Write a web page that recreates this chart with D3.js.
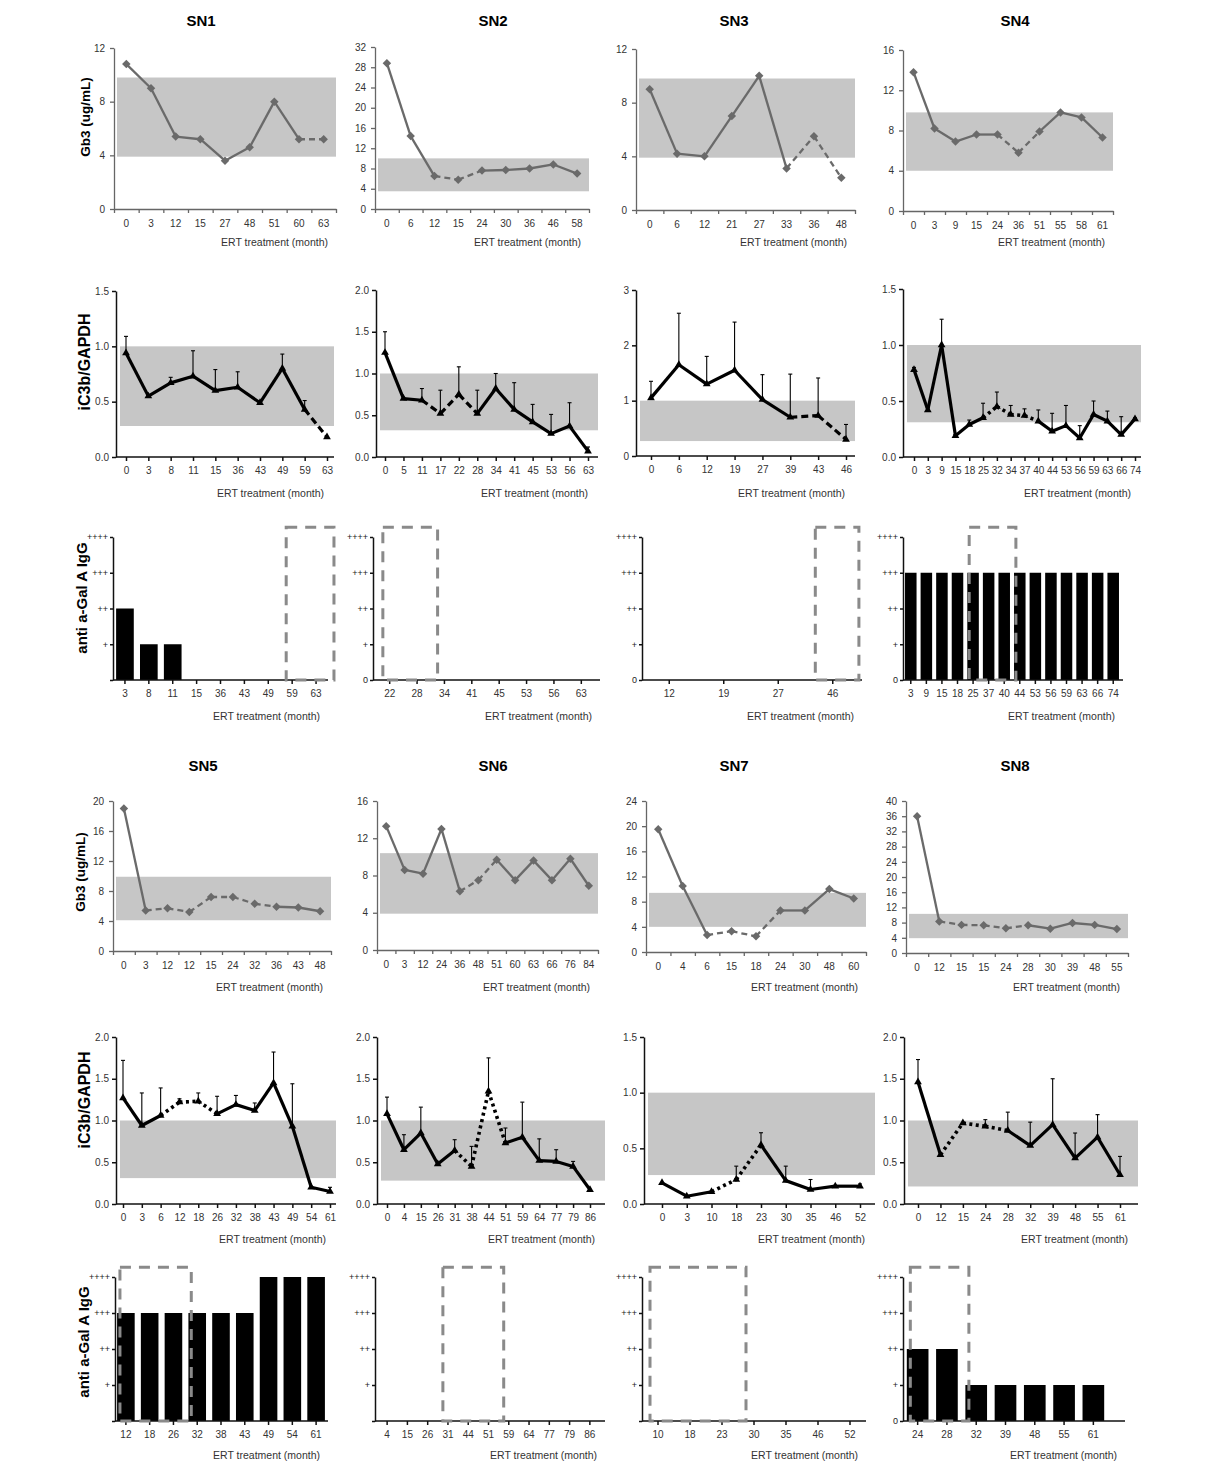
<!DOCTYPE html>
<html><head><meta charset="utf-8">
<script src="https://cdn.jsdelivr.net/npm/d3@7"></script>
<style>body{margin:0;background:#fff}svg{display:block}</style>
</head><body>
<svg id="c" width="1210" height="1470"></svg>
<script>
// ================= DATA =================
const patients = ["SN1","SN2","SN3","SN4","SN5","SN6","SN7","SN8"];
const igLevelLabels = ["0","+","++","+++","++++"];

// ---- Gb3 (ug/mL) ----  dashed: 1 = segment to next point is dashed
const gb3_SN1_months = ["0","3","12","15","27","48","51","60","63"];
const gb3_SN1_values = [10.8,9.0,5.4,5.2,3.6,4.6,8.0,5.2,5.2];
const gb3_SN1_dashed = [0,0,0,0,0,0,0,1];
const gb3_SN1_normal = [3.9,9.8];
const gb3_SN1_ymax = 12;

const gb3_SN2_months = ["0","6","12","15","24","30","36","46","58"];
const gb3_SN2_values = [28.8,14.4,6.5,5.8,7.6,7.7,8.0,8.8,7.0];
const gb3_SN2_dashed = [0,0,1,1,0,0,0,0];
const gb3_SN2_normal = [3.5,10.0];
const gb3_SN2_ymax = 32;

const gb3_SN3_months = ["0","6","12","21","27","33","36","48"];
const gb3_SN3_values = [9.0,4.2,4.0,7.0,10.0,3.1,5.5,2.4];
const gb3_SN3_dashed = [0,0,0,0,0,1,1];
const gb3_SN3_normal = [3.9,9.8];
const gb3_SN3_ymax = 12;

const gb3_SN4_months = ["0","3","9","15","24","36","51","55","58","61"];
const gb3_SN4_values = [13.8,8.2,6.9,7.6,7.6,5.8,7.9,9.8,9.3,7.3];
const gb3_SN4_dashed = [0,0,0,0,1,1,0,0,0];
const gb3_SN4_normal = [4.0,9.8];
const gb3_SN4_ymax = 16;

const gb3_SN5_months = ["0","3","12","12","15","24","32","36","43","48"];
const gb3_SN5_values = [19.0,5.4,5.7,5.2,7.2,7.2,6.3,5.9,5.8,5.3];
const gb3_SN5_dashed = [0,1,1,1,1,1,1,0,0];
const gb3_SN5_normal = [4.1,9.9];
const gb3_SN5_ymax = 20;

const gb3_SN6_months = ["0","3","12","24","36","48","51","60","63","66","76","84"];
const gb3_SN6_values = [13.3,8.6,8.2,13.0,6.3,7.5,9.7,7.5,9.6,7.5,9.8,6.9];
const gb3_SN6_dashed = [0,0,0,0,1,1,0,0,0,0,0];
const gb3_SN6_normal = [3.9,10.4];
const gb3_SN6_ymax = 16;

const gb3_SN7_months = ["0","4","6","15","18","24","30","48","60"];
const gb3_SN7_values = [19.5,10.5,2.7,3.3,2.5,6.6,6.6,10.0,8.5];
const gb3_SN7_dashed = [0,0,1,1,1,0,0,0];
const gb3_SN7_normal = [4.0,9.4];
const gb3_SN7_ymax = 24;

const gb3_SN8_months = ["0","12","15","15","24","28","30","39","48","55"];
const gb3_SN8_values = [36.0,8.3,7.4,7.3,6.5,7.3,6.4,7.9,7.4,6.3];
const gb3_SN8_dashed = [0,1,1,1,1,0,0,0,0];
const gb3_SN8_normal = [3.9,10.3];
const gb3_SN8_ymax = 40;

// ---- iC3b/GAPDH (mean, upper error = SD) ---- style: 0 solid, 1 dashed, 2 dotted
const c3_SN1_months = ["0","3","8","11","15","36","43","49","59","63"];
const c3_SN1_mean = [0.94,0.55,0.67,0.73,0.60,0.63,0.49,0.80,0.43,0.18];
const c3_SN1_sd   = [0.15,0,0.05,0.23,0.19,0.14,0,0.13,0.08,0];
const c3_SN1_style = [0,0,0,0,0,0,0,0,1];
const c3_SN1_normal = [0.28,1.0];
const c3_SN1_ymax = 1.5;

const c3_SN2_months = ["0","5","11","17","22","28","34","41","45","53","56","63"];
const c3_SN2_mean = [1.25,0.70,0.68,0.52,0.75,0.52,0.82,0.57,0.42,0.28,0.37,0.07];
const c3_SN2_sd   = [0.25,0,0.14,0.28,0.33,0.28,0.18,0.32,0.21,0.23,0.28,0.05];
const c3_SN2_style = [0,0,1,1,1,0,0,0,0,0,0];
const c3_SN2_normal = [0.32,1.0];
const c3_SN2_ymax = 2.0;

const c3_SN3_months = ["0","6","12","19","27","39","43","46"];
const c3_SN3_mean = [1.05,1.65,1.30,1.55,1.02,0.70,0.73,0.30];
const c3_SN3_sd   = [0.30,0.93,0.50,0.87,0.45,0.78,0.68,0.27];
const c3_SN3_style = [0,0,0,0,0,1,1];
const c3_SN3_normal = [0.27,1.0];
const c3_SN3_ymax = 3;

const c3_SN4_months = ["0","3","9","15","18","25","32","34","37","40","44","53","56","59","63","66","74"];
const c3_SN4_mean = [0.78,0.42,1.00,0.19,0.29,0.35,0.45,0.38,0.37,0.32,0.23,0.28,0.17,0.38,0.32,0.20,0.34];
const c3_SN4_sd   = [0.02,0.02,0.23,0.01,0.04,0.13,0.13,0.08,0.06,0.10,0.16,0.18,0.11,0.12,0.09,0.16,0.01];
const c3_SN4_style = [0,0,0,0,0,2,2,2,2,0,0,0,0,0,0,0];
const c3_SN4_normal = [0.31,1.0];
const c3_SN4_ymax = 1.5;

const c3_SN5_months = ["0","3","6","12","18","26","32","38","43","49","54","61"];
const c3_SN5_mean = [1.27,0.94,1.06,1.22,1.23,1.08,1.19,1.12,1.45,0.93,0.20,0.15];
const c3_SN5_sd   = [0.45,0.39,0.33,0.04,0.10,0.21,0.11,0.09,0.37,0.51,0,0.05];
const c3_SN5_style = [0,0,2,2,2,0,0,0,0,0,0];
const c3_SN5_normal = [0.31,1.0];
const c3_SN5_ymax = 2.0;

const c3_SN6_months = ["0","4","15","26","31","38","44","51","59","64","77","79","86"];
const c3_SN6_mean = [1.08,0.65,0.85,0.48,0.64,0.45,1.35,0.73,0.80,0.52,0.51,0.45,0.17];
const c3_SN6_sd   = [0.20,0.18,0.31,0,0.13,0.24,0.40,0.18,0.42,0.26,0.14,0.06,0];
const c3_SN6_style = [0,0,0,0,2,2,2,0,0,0,0,0];
const c3_SN6_normal = [0.28,1.0];
const c3_SN6_ymax = 2.0;

const c3_SN7_months = ["0","3","10","18","23","30","35","46","52"];
const c3_SN7_mean = [0.19,0.07,0.11,0.22,0.53,0.21,0.13,0.16,0.16];
const c3_SN7_sd   = [0,0,0,0.12,0.11,0.13,0.09,0,0.02];
const c3_SN7_style = [0,0,2,2,0,0,0,0];
const c3_SN7_normal = [0.26,1.0];
const c3_SN7_ymax = 1.5;

const c3_SN8_months = ["0","12","15","24","28","32","39","48","55","61"];
const c3_SN8_mean = [1.46,0.59,0.97,0.93,0.88,0.70,0.95,0.55,0.80,0.35];
const c3_SN8_sd   = [0.27,0,0,0.08,0.22,0.28,0.55,0.30,0.27,0.22];
const c3_SN8_style = [0,2,2,2,0,0,0,0,0];
const c3_SN8_normal = [0.21,1.0];
const c3_SN8_ymax = 2.0;

// ---- anti a-Gal A IgG (0..4 = 0,+,++,+++,++++) ---- box: first/last month index in dashed box
const ig_SN1_months = ["3","8","11","15","36","43","49","59","63"];
const ig_SN1_levels = [2,1,1,0,0,0,0,0,0];
const ig_SN1_box = [7,8];

const ig_SN2_months = ["22","28","34","41","45","53","56","63"];
const ig_SN2_levels = [0,0,0,0,0,0,0,0];
const ig_SN2_box = [0,1];

const ig_SN3_months = ["12","19","27","46"];
const ig_SN3_levels = [0,0,0,0];
const ig_SN3_box = [3,3];

const ig_SN4_months = ["3","9","15","18","25","37","40","44","53","56","59","63","66","74"];
const ig_SN4_levels = [3,3,3,3,3,3,3,3,3,3,3,3,3,3];
const ig_SN4_box = [4,6];

const ig_SN5_months = ["12","18","26","32","38","43","49","54","61"];
const ig_SN5_levels = [3,3,3,3,3,3,4,4,4];
const ig_SN5_box = [0,2];

const ig_SN6_months = ["4","15","26","31","44","51","59","64","77","79","86"];
const ig_SN6_levels = [0,0,0,0,0,0,0,0,0,0,0];
const ig_SN6_box = [3,5];

const ig_SN7_months = ["10","18","23","30","35","46","52"];
const ig_SN7_levels = [0,0,0,0,0,0,0];
const ig_SN7_box = [0,2];

const ig_SN8_months = ["24","28","32","39","48","55","61"];
const ig_SN8_levels = [2,2,1,1,1,1,1];
const ig_SN8_box = [0,1];

const gb3Data = {
  SN1:[gb3_SN1_months,gb3_SN1_values,gb3_SN1_dashed,gb3_SN1_normal,gb3_SN1_ymax],
  SN2:[gb3_SN2_months,gb3_SN2_values,gb3_SN2_dashed,gb3_SN2_normal,gb3_SN2_ymax],
  SN3:[gb3_SN3_months,gb3_SN3_values,gb3_SN3_dashed,gb3_SN3_normal,gb3_SN3_ymax],
  SN4:[gb3_SN4_months,gb3_SN4_values,gb3_SN4_dashed,gb3_SN4_normal,gb3_SN4_ymax],
  SN5:[gb3_SN5_months,gb3_SN5_values,gb3_SN5_dashed,gb3_SN5_normal,gb3_SN5_ymax],
  SN6:[gb3_SN6_months,gb3_SN6_values,gb3_SN6_dashed,gb3_SN6_normal,gb3_SN6_ymax],
  SN7:[gb3_SN7_months,gb3_SN7_values,gb3_SN7_dashed,gb3_SN7_normal,gb3_SN7_ymax],
  SN8:[gb3_SN8_months,gb3_SN8_values,gb3_SN8_dashed,gb3_SN8_normal,gb3_SN8_ymax]
};
const c3Data = {
  SN1:[c3_SN1_months,c3_SN1_mean,c3_SN1_sd,c3_SN1_style,c3_SN1_normal,c3_SN1_ymax],
  SN2:[c3_SN2_months,c3_SN2_mean,c3_SN2_sd,c3_SN2_style,c3_SN2_normal,c3_SN2_ymax],
  SN3:[c3_SN3_months,c3_SN3_mean,c3_SN3_sd,c3_SN3_style,c3_SN3_normal,c3_SN3_ymax],
  SN4:[c3_SN4_months,c3_SN4_mean,c3_SN4_sd,c3_SN4_style,c3_SN4_normal,c3_SN4_ymax],
  SN5:[c3_SN5_months,c3_SN5_mean,c3_SN5_sd,c3_SN5_style,c3_SN5_normal,c3_SN5_ymax],
  SN6:[c3_SN6_months,c3_SN6_mean,c3_SN6_sd,c3_SN6_style,c3_SN6_normal,c3_SN6_ymax],
  SN7:[c3_SN7_months,c3_SN7_mean,c3_SN7_sd,c3_SN7_style,c3_SN7_normal,c3_SN7_ymax],
  SN8:[c3_SN8_months,c3_SN8_mean,c3_SN8_sd,c3_SN8_style,c3_SN8_normal,c3_SN8_ymax]
};
const igData = {
  SN1:[ig_SN1_months,ig_SN1_levels,ig_SN1_box],
  SN2:[ig_SN2_months,ig_SN2_levels,ig_SN2_box],
  SN3:[ig_SN3_months,ig_SN3_levels,ig_SN3_box],
  SN4:[ig_SN4_months,ig_SN4_levels,ig_SN4_box],
  SN5:[ig_SN5_months,ig_SN5_levels,ig_SN5_box],
  SN6:[ig_SN6_months,ig_SN6_levels,ig_SN6_box],
  SN7:[ig_SN7_months,ig_SN7_levels,ig_SN7_box],
  SN8:[ig_SN8_months,ig_SN8_levels,ig_SN8_box]
};

// ================= LAYOUT =================
const gb3Layout = {
  SN1:{L:114,R:336,T:48,B:209,tx:201,ty:26,xt:246},
  SN2:{L:375,R:589,T:47,B:209,tx:493,ty:26,xt:246},
  SN3:{L:636,R:855,T:49,B:210,tx:734,ty:26,xt:246},
  SN4:{L:903,R:1113,T:50,B:211,tx:1015,ty:26,xt:246},
  SN5:{L:113,R:331,T:801,B:951,tx:203,ty:771,xt:991},
  SN6:{L:377,R:598,T:801,B:950,tx:493,ty:771,xt:991},
  SN7:{L:646,R:866,T:801,B:952,tx:734,ty:771,xt:991},
  SN8:{L:906,R:1128,T:801,B:953,tx:1015,ty:771,xt:991}
};
const c3Layout = {
  SN1:{L:116,R:334,T:291,B:457,x0:126,x1:327,xt:497},
  SN2:{L:376,R:598,T:290,B:457,x0:385,x1:588,xt:497},
  SN3:{L:636,R:855,T:290,B:456,x0:651,x1:846,xt:497},
  SN4:{L:903,R:1141,T:289,B:457,x0:914,x1:1135,xt:497},
  SN5:{L:116,R:336,T:1037,B:1204,x0:123,x1:330,xt:1243},
  SN6:{L:377,R:605,T:1037,B:1204,x0:387,x1:590,xt:1243},
  SN7:{L:644,R:875,T:1037,B:1204,x0:662,x1:860,xt:1243},
  SN8:{L:904,R:1138,T:1037,B:1204,x0:918,x1:1120,xt:1243}
};
const igLayout = {
  SN1:{ax:113,r0:113,r1:328,end:328,T:537,B:680,zero:false,pl:0.25,pr:0.75,xt:720},
  SN2:{ax:373,r0:376,r1:595,end:600,T:537,B:680,zero:true,pl:0.25,pr:0.75,xt:720},
  SN3:{ax:642,r0:642,r1:860,end:862,T:537,B:680,zero:true,pl:0.32,pr:0.48,xt:720},
  SN4:{ax:903,r0:903,r1:1121,end:1123,T:537,B:680,zero:true,pl:0.25,pr:0.75,xt:720},
  SN5:{ax:115,r0:114,r1:328,end:328,T:1277,B:1421,zero:false,pl:0.25,pr:0.75,xt:1459},
  SN6:{ax:375,r0:377,r1:600,end:605,T:1277,B:1421,zero:false,pl:0.25,pr:0.75,xt:1459},
  SN7:{ax:642,r0:642,r1:866,end:866,T:1277,B:1421,zero:false,pl:0.25,pr:0.75,xt:1459},
  SN8:{ax:903,r0:903,r1:1108,end:1125,T:1277,B:1421,zero:true,pl:0.25,pr:0.75,xt:1459}
};

// ================= DRAW =================
const svg = d3.select("#c");
const SANS = "'Liberation Sans', Arial, sans-serif";
const GRAYBAND = "#c6c6c6";

function styleAxis(g, color, w, size, fill) {
  g.attr("font-family", SANS).attr("font-size", size);
  g.select(".domain").attr("stroke", color).attr("stroke-width", w);
  g.selectAll(".tick line").attr("stroke", color).attr("stroke-width", w);
  g.selectAll(".tick text").attr("fill", fill);
}
function xTitle(x, y) {
  svg.append("text").attr("x", x).attr("y", y).attr("text-anchor", "end")
    .attr("font-family", SANS).attr("font-size", 10.5).attr("fill", "#333")
    .text("ERT treatment (month)");
}

function drawGb3(id) {
  const [months, values, dashed, normal, ymax] = gb3Data[id];
  const c = gb3Layout[id];
  const n = months.length;
  const x = d3.scaleBand().domain(d3.range(n)).range([c.L, c.R]);
  const edge = d3.scaleLinear().domain([0, n]).range([c.L, c.R]);
  const y = d3.scaleLinear().domain([0, ymax]).range([c.B, c.T]);
  const g = svg.append("g");
  g.append("rect").attr("x", c.L + 3).attr("width", c.R - c.L - 3)
    .attr("y", y(normal[1])).attr("height", y(normal[0]) - y(normal[1])).attr("fill", GRAYBAND);
  const ya = g.append("g").attr("transform", `translate(${c.L},0)`)
    .call(d3.axisLeft(y).tickValues(d3.range(0, ymax + 0.01, 4)).tickSize(4).tickSizeOuter(0).tickPadding(5));
  styleAxis(ya, "#666", 1.3, 10, "#333");
  const xe = g.append("g").attr("transform", `translate(0,${c.B})`)
    .call(d3.axisBottom(edge).tickValues(d3.range(n + 1)).tickFormat("").tickSize(4).tickSizeOuter(0));
  styleAxis(xe, "#666", 1.3, 10, "#333");
  const xl = g.append("g").attr("transform", `translate(0,${c.B})`)
    .call(d3.axisBottom(x).tickFormat(i => months[i]).tickSize(0).tickPadding(11));
  xl.select(".domain").remove();
  styleAxis(xl, "#666", 1.3, 10, "#333");
  const pts = values.map((v, i) => [x(i) + x.bandwidth() / 2, y(v)]);
  const line = d3.line();
  for (let i = 0; i < n - 1; i++) {
    g.append("path").attr("d", line([pts[i], pts[i + 1]])).attr("fill", "none")
      .attr("stroke", "#6a6a6a").attr("stroke-width", 2.3)
      .attr("stroke-dasharray", dashed[i] ? "6,4" : null);
  }
  g.selectAll("path.mk").data(pts).join("path").attr("class", "mk")
    .attr("d", d3.symbol(d3.symbolSquare, 36)())
    .attr("transform", d => `translate(${d[0]},${d[1]}) rotate(45)`)
    .attr("fill", "#6a6a6a");
  svg.append("text").attr("x", c.tx).attr("y", c.ty).attr("text-anchor", "middle")
    .attr("font-family", SANS).attr("font-weight", "bold").attr("font-size", 15).text(id);
  xTitle(c.R - 8, c.xt);
}

function drawC3(id) {
  const [months, mean, sd, style, normal, ymax] = c3Data[id];
  const c = c3Layout[id];
  const n = months.length;
  const x = d3.scalePoint().domain(d3.range(n)).range([c.x0, c.x1]);
  const y = d3.scaleLinear().domain([0, ymax]).range([c.B, c.T]);
  const g = svg.append("g");
  g.append("rect").attr("x", c.L + 4).attr("width", c.R - c.L - 4)
    .attr("y", y(normal[1])).attr("height", y(normal[0]) - y(normal[1])).attr("fill", GRAYBAND);
  const step = ymax === 3 ? 1 : 0.5;
  const fmt = ymax === 3 ? d3.format("d") : d3.format(".1f");
  const ya = g.append("g").attr("transform", `translate(${c.L},0)`)
    .call(d3.axisLeft(y).tickValues(d3.range(0, ymax + 0.01, step)).tickFormat(fmt).tickSize(4).tickSizeOuter(0).tickPadding(3));
  styleAxis(ya, "#111", 1.5, 10, "#333");
  const xa = g.append("g").attr("transform", `translate(0,${c.B})`)
    .call(d3.axisBottom(x).tickFormat(i => months[i]).tickSize(4).tickSizeOuter(0).tickPadding(6));
  styleAxis(xa, "#111", 1.5, 10, "#333");
  xa.select(".domain").attr("d", `M${c.L},0H${c.R}`);
  // error bars
  const eb = g.append("g").attr("stroke", "#000").attr("stroke-width", 1.1);
  mean.forEach((m, i) => {
    if (sd[i] <= 0) return;
    const xx = x(i), y0 = y(m), y1 = y(m + sd[i]);
    eb.append("line").attr("x1", xx).attr("x2", xx).attr("y1", y0).attr("y2", y1);
    eb.append("line").attr("x1", xx - 2).attr("x2", xx + 2).attr("y1", y1).attr("y2", y1);
  });
  const pts = mean.map((m, i) => [x(i), y(m)]);
  const line = d3.line();
  const dash = [null, "7,4", "3,3.5"];
  for (let i = 0; i < n - 1; i++) {
    g.append("path").attr("d", line([pts[i], pts[i + 1]])).attr("fill", "none")
      .attr("stroke", "#000").attr("stroke-width", style[i] === 2 ? 3.6 : 3.2)
      .attr("stroke-dasharray", dash[style[i]]);
  }
  g.selectAll("path.mk").data(pts).join("path").attr("class", "mk")
    .attr("d", d3.symbol(d3.symbolTriangle, 26)())
    .attr("transform", d => `translate(${d[0]},${d[1]})`).attr("fill", "#000");
  xTitle(c.R - 10, c.xt);
}

function drawIg(id) {
  const [months, levels, box] = igData[id];
  const c = igLayout[id];
  const n = months.length;
  const x = d3.scaleBand().domain(d3.range(n)).range([c.r0, c.r1]).paddingInner(0.26).paddingOuter(0.13);
  const y = d3.scaleLinear().domain([0, 4]).range([c.B, c.T]);
  const step = x.step();
  const g = svg.append("g");
  g.selectAll("rect.bar").data(levels).join("rect").attr("class", "bar")
    .attr("x", (d, i) => x(i)).attr("width", x.bandwidth())
    .attr("y", d => y(d)).attr("height", d => c.B - y(d)).attr("fill", "#000");
  const ya = g.append("g").attr("transform", `translate(${c.ax},0)`)
    .call(d3.axisLeft(y).tickValues([0, 1, 2, 3, 4])
      .tickFormat(v => (v === 0 && !c.zero) ? "" : igLevelLabels[v])
      .tickSize(3).tickSizeOuter(0).tickPadding(2));
  styleAxis(ya, "#111", 1.5, 9, "#222");
  const xa = g.append("g").attr("transform", `translate(0,${c.B})`)
    .call(d3.axisBottom(x).tickFormat(i => months[i]).tickSize(4).tickSizeOuter(0).tickPadding(6));
  styleAxis(xa, "#111", 1.5, 10, "#333");
  xa.select(".domain").attr("d", `M${c.ax},0H${c.end}`);
  const cx = i => x(i) + x.bandwidth() / 2;
  const bx0 = cx(box[0]) - c.pl * step, bx1 = cx(box[1]) + c.pr * step;
  g.append("rect").attr("x", bx0).attr("y", y(4.27)).attr("width", bx1 - bx0).attr("height", c.B - y(4.27))
    .attr("fill", "none").attr("stroke", "#8a8a8a").attr("stroke-width", 3).attr("stroke-dasharray", "11,8");
  xTitle(c.end - 8, c.xt);
}

patients.forEach(p => { drawGb3(p); drawC3(p); drawIg(p); });

// y-axis titles
function yTitle(txt, x, y, size) {
  svg.append("text").attr("transform", `translate(${x},${y}) rotate(-90)`).attr("text-anchor", "middle")
    .attr("font-family", SANS).attr("font-weight", "bold").attr("font-size", size).text(txt);
}
yTitle("Gb3  (ug/mL)", 90, 117, 13.5);
yTitle("iC3b/GAPDH", 90, 362, 16);
yTitle("anti a-Gal A IgG", 87, 598, 15);
yTitle("Gb3  (ug/mL)", 85, 872, 13.5);
yTitle("iC3b/GAPDH", 90, 1100, 16);
yTitle("anti a-Gal A IgG", 89, 1342, 15);
</script>
</body></html>
